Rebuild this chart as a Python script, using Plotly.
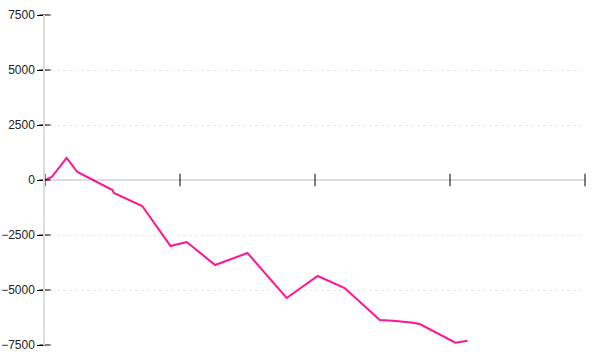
import plotly.graph_objects as go

# data
x_vals = [0, 0.5, 1.6, 2.4, 5.0, 5.1, 7.2, 9.3, 9.6, 10.5, 12.6, 15.0, 17.9, 20.2, 22.2,
          24.8, 25.8, 27.3, 27.8, 30.4, 31.3]
y_vals = [0, 136, 1000, 364, -455, -591, -1182, -3000, -2955, -2818, -3864, -3318, -5364,
          -4364, -4909, -6364, -6395, -6486, -6559, -7395, -7305]
y_ticks = [-7500, -5000, -2500, 0, 2500, 5000, 7500]
x_ticks = [0, 10, 20, 30, 40]

fig = go.Figure()
fig.add_trace(go.Scatter(x=x_vals, y=y_vals, mode="lines",
                         line=dict(color="#FF1493", width=2), hoverinfo="skip"))
# crossing tick marks on the x axis (at y=0)
fig.add_trace(go.Scatter(x=x_ticks, y=[0] * len(x_ticks), mode="markers",
                         marker=dict(symbol="line-ns", size=9, line=dict(color="black", width=1)),
                         cliponaxis=False, hoverinfo="skip"))
# inner halves of y tick marks
fig.add_trace(go.Scatter(x=[x_ticks[0]] * len(y_ticks), y=y_ticks, mode="markers",
                         marker=dict(symbol="line-ew", size=8, line=dict(color="black", width=1)),
                         cliponaxis=False, hoverinfo="skip"))

fig.update_layout(
    width=600, height=360,
    margin=dict(l=45, r=15, t=15, b=15),
    plot_bgcolor="white", paper_bgcolor="white",
    showlegend=False,
    font=dict(family="Liberation Sans, Arial, sans-serif", size=12, color="#222"),
)
fig.update_xaxes(range=[0, 40], tickvals=x_ticks, showticklabels=False, showgrid=False,
                 zeroline=False, showline=False, ticks="", automargin=False)
fig.update_yaxes(range=[-7500, 7500], tickvals=y_ticks, showgrid=True, automargin=False,
                 gridcolor="#e8e8e8", griddash="dot", gridwidth=1,
                 zeroline=True, zerolinecolor="#dddddd", zerolinewidth=1.5,
                 showline=True, linecolor="#dddddd", linewidth=1.5,
                 ticks="outside", ticklen=6, tickcolor="black", tickwidth=1)

fig.write_html("out.html")
